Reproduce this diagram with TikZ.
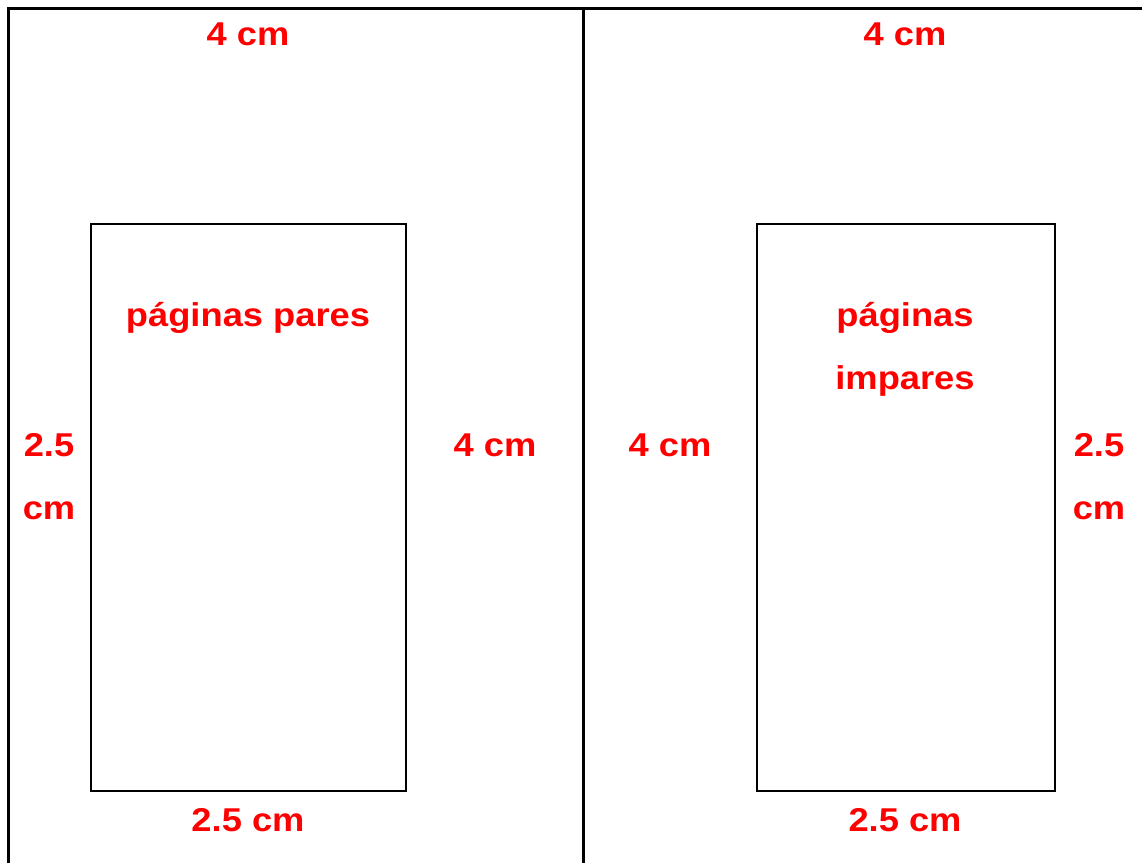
\documentclass[tikz,border=0pt]{standalone}
\usepackage{fontspec}
\setmainfont{Liberation Sans}
\begin{document}
\begin{tikzpicture}[x=1pt,y=-1pt,node distance=63pt,
    dim node/.style={text=red,font=\bfseries\fontsize{33}{38}\selectfont,inner sep=0pt,text height=24pt,text depth=7pt,xscale=1.1},
    frame line/.style={line width=3pt},
    page box/.style={line width=2.5pt}]
    \useasboundingbox (0,0) rectangle (1142,863);

    % sheet and fold
    \draw[frame line] (8,863) -- (8,8.5) -- (1142,8.5);
    \draw[frame line] (583.5,8.5) -- (583.5,863);

    % text areas
    \draw[page box] (91,224) rectangle (406,791);
    \draw[page box] (757,224) rectangle (1055,791);

    % even page
    \node[dim node] (top1) at (248,37) {4 cm};
    \node[dim node] (even) at (248,318) {páginas pares};
    \node[dim node] (in1) at (49,448) {2.5};
    \node[dim node] (in1b) [below of=in1] {cm};
    \node[dim node] (out1) at (495,448) {4 cm};
    \node[dim node] (bot1) at (248,823) {2.5 cm};

    % odd page
    \node[dim node] (top2) at (905,37) {4 cm};
    \node[dim node] (odd) at (905,318) {páginas};
    \node[dim node] (oddb) [below of=odd] {impares};
    \node[dim node] (out2) at (670,448) {4 cm};
    \node[dim node] (in2) at (1099,448) {2.5};
    \node[dim node] (in2b) [below of=in2] {cm};
    \node[dim node] (bot2) at (905,823) {2.5 cm};
\end{tikzpicture}
\end{document}
